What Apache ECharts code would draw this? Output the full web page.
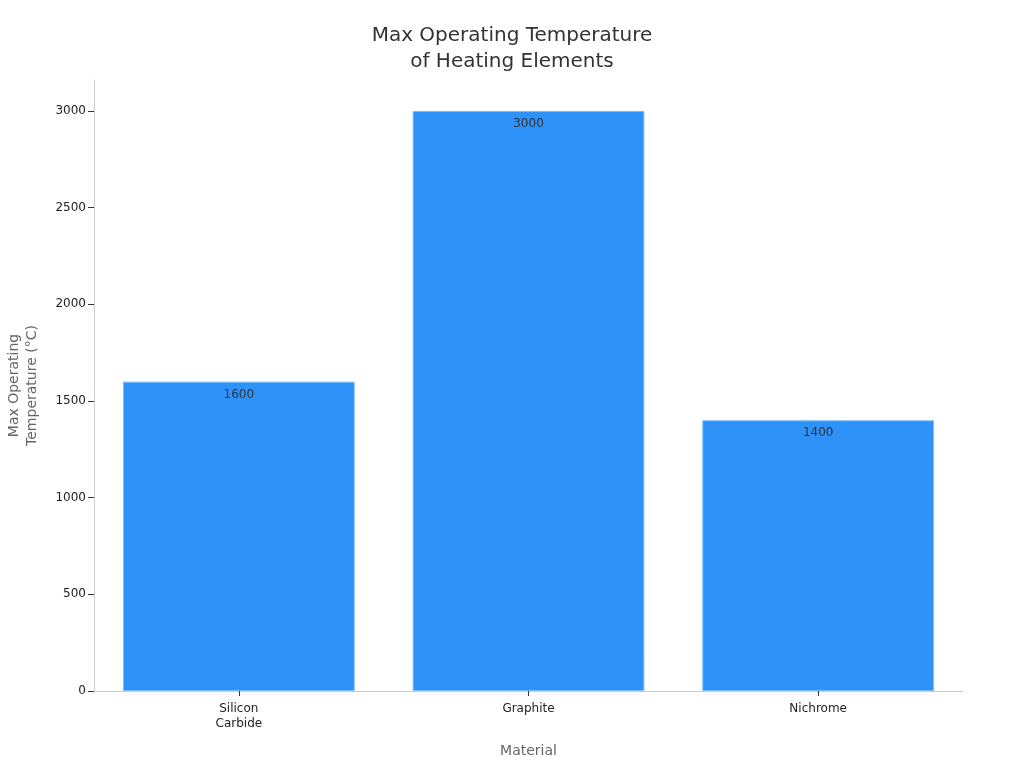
<!DOCTYPE html>
<html>
<head>
<meta charset="UTF-8">
<title>Max Operating Temperature</title>
<script src="https://cdn.jsdelivr.net/npm/echarts@6/dist/echarts.min.js"></script>
<style>
  html, body { margin: 0; padding: 0; background: #fff; }
  #chart { width: 1024px; height: 768px; }
</style>
</head>
<body>
<div id="chart"></div>
<script>
  // data
  var materials = ['Silicon\nCarbide', 'Graphite', 'Nichrome'];
  var maxTemps = [1600, 3000, 1400];
  var yTicks = [0, 500, 1000, 1500, 2000, 2500, 3000];

  var chart = echarts.init(document.getElementById('chart'));
  var font = 'DejaVu Sans';
  chart.setOption({
    animation: false,
    textStyle: { fontFamily: font },
    title: {
      text: 'Max Operating Temperature\nof Heating Elements',
      left: 'center',
      top: 18,
      textStyle: { fontFamily: font, fontSize: 20, fontWeight: 'normal', color: '#333', lineHeight: 26 }
    },
    grid: { left: 94, right: 61, top: 80, bottom: 77, outerBoundsMode: 'none' },
    xAxis: {
      type: 'category',
      data: materials,
      name: 'Material',
      nameLocation: 'middle',
      nameGap: 53,
      nameTextStyle: { fontFamily: font, fontSize: 14, color: '#666' },
      axisLine: { lineStyle: { color: '#ccc' } },
      axisTick: { show: true, alignWithLabel: true, length: 5, lineStyle: { color: '#333' } },
      axisLabel: { fontFamily: font, fontSize: 12, color: '#222', margin: 10, lineHeight: 15 }
    },
    yAxis: {
      type: 'value',
      min: 0,
      max: 3160,
      interval: 500,
      name: 'Max Operating\nTemperature (°C)',
      nameLocation: 'middle',
      nameGap: 53,
      nameTextStyle: { fontFamily: font, fontSize: 14, color: '#666', lineHeight: 18 },
      splitLine: { show: false },
      axisLine: { show: true, lineStyle: { color: '#ccc' } },
      axisTick: { show: true, length: 6, customValues: yTicks, lineStyle: { color: '#333' } },
      axisLabel: {
        fontFamily: font, fontSize: 12, color: '#222', margin: 8, customValues: yTicks,
        formatter: function (v) { return String(v); }
      }
    },
    series: [{
      type: 'bar',
      data: maxTemps,
      barWidth: '80%',
      itemStyle: { color: '#2f92f9', borderColor: '#7cbcf8', borderWidth: 1 },
      label: {
        show: true,
        position: 'insideTop',
        distance: 7,
        fontFamily: font,
        fontSize: 12,
        color: '#333'
      }
    }]
  });
</script>
</body>
</html>
